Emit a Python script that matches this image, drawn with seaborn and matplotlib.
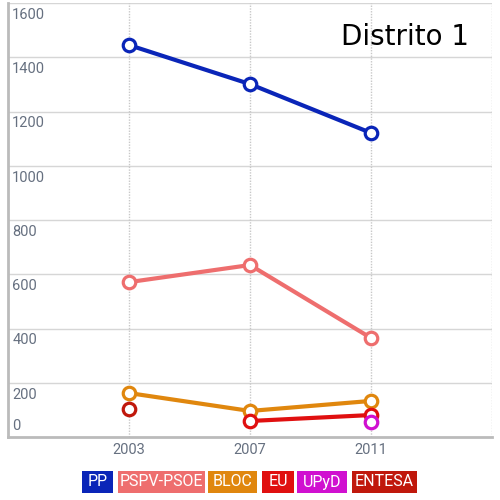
import pandas as pd
import numpy as np
import matplotlib.pyplot as plt
import matplotlib.patches as mpatches
import seaborn as sns

# -------------------------------
# DATA
# -------------------------------
years = [2003, 2007, 2011]
parties = ['PP', 'PSPV-PSOE', 'BLOC', 'EU', 'UPyD', 'ENTESA']
colors = ['#0a25b8', '#ee6e6e', '#e0870e', '#e01010', '#d010d0', '#c0180c']

pp = [1445, 1301, 1121]
pspv_psoe = [571, 634, 365]
bloc = [162, 96, 133]
eu = [np.nan, 59, 81]
upyd = [np.nan, np.nan, 55]
entesa = [103, np.nan, np.nan]

votes = [pp, pspv_psoe, bloc, eu, upyd, entesa]

rows = []
for party, vals in zip(parties, votes):
    for y, v in zip(years, vals):
        rows.append({'Year': y, 'Party': party, 'Votes': v})
data = pd.DataFrame(rows).dropna()

y_ticks = [0, 200, 400, 600, 800, 1000, 1200, 1400, 1600]

# -------------------------------
# PLOT
# -------------------------------
sns.set_style('white')
narrow = ['Liberation Sans Narrow', 'Roboto', 'DejaVu Sans']
grey = '#667080'

fig = plt.figure(figsize=(5, 5), dpi=100)
ax = fig.add_axes([0.016, 0.126, 0.968, 0.868])

for party, col in zip(parties, colors):
    sub = data[data['Party'] == party]
    sns.lineplot(data=sub, x='Year', y='Votes', ax=ax, color=col,
                 linewidth=3.0, marker='o', markersize=9,
                 markerfacecolor='white', markeredgecolor=col,
                 markeredgewidth=2.3, clip_on=False, zorder=3)

ax.set_xlim(1999, 2015)
ax.set_ylim(0, 1600)

# gridlines
for v in y_ticks[1:]:
    ax.axhline(v, color='#d6d6d6', lw=1, zorder=1)
for x in [2003, 2007, 2011, 2015]:
    ax.axvline(x, color='#c8c8c8', lw=1, ls=(0, (1, 1)), zorder=1)

ax.set_yticks([])
ax.set_xticks(years)
ax.set_xticklabels([str(y) for y in years], family=narrow, fontsize=10.5,
                   color=grey)
ax.tick_params(axis='x', length=0, pad=4)
ax.set_xlabel('')
ax.set_ylabel('')

# y labels sit inside the plot, just below their gridline
for v in y_ticks:
    if v == 0:
        ax.annotate('0', xy=(0, 0), xycoords=('axes fraction', 'data'),
                    xytext=(3, 3), textcoords='offset points', va='bottom',
                    ha='left', fontsize=10.5, family=narrow, color=grey)
    else:
        ax.annotate(str(v), xy=(0, v), xycoords=('axes fraction', 'data'),
                    xytext=(3, -3.5), textcoords='offset points', va='top',
                    ha='left', fontsize=10.5, family=narrow, color=grey)

for side in ['top', 'right']:
    ax.spines[side].set_visible(False)
ax.spines['left'].set_color('#bbbbbb')
ax.spines['left'].set_linewidth(2)
ax.spines['bottom'].set_color('#bbbbbb')
ax.spines['bottom'].set_linewidth(2)

ax.text(0.953, 0.955, 'Distrito 1', transform=ax.transAxes, ha='right',
        va='top', fontsize=20, color='black')

# legend as coloured boxes (left and right edge in pixels)
legend_left = [82, 118, 208, 262, 297, 352]
legend_right = [113, 205, 257, 294, 347, 417]
for party, col, l, r in zip(parties, colors, legend_left, legend_right):
    fig.patches.append(mpatches.Rectangle((l / 500, 1 - 493 / 500),
                                          (r - l) / 500, 22 / 500,
                                          transform=fig.transFigure,
                                          fc=col, ec='none'))
    fig.text((l + r) / 2 / 500, 1 - 482 / 500, party, ha='center',
             va='center', fontsize=11.5, family=narrow, color='white')

fig.savefig('out.png', dpi=100)
